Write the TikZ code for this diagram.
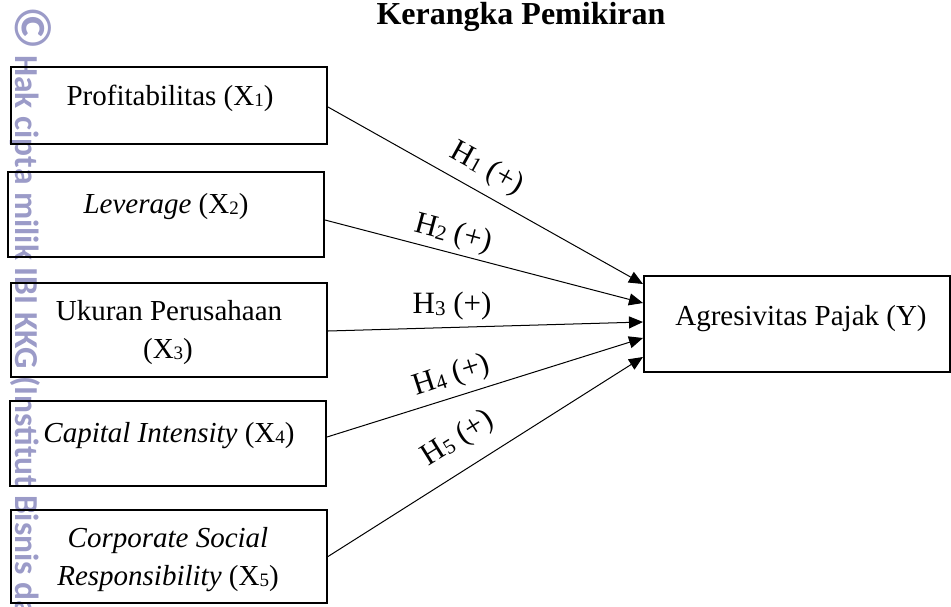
\documentclass[tikz,border=0pt]{standalone}
\usepackage{fontspec}
\setmainfont{Liberation Serif}
\newfontfamily\wmfont{Carlito}
\usetikzlibrary{arrows.meta}
\definecolor{wmcol}{RGB}{155,155,200}
\newcommand{\mysub}[1]{\raisebox{-0.04em}{\fontsize{19}{19}\selectfont #1}}
\newcommand{\lsub}[1]{\raisebox{-0.06em}{\fontsize{21}{21}\selectfont #1}}
\begin{document}
\begin{tikzpicture}[x=1pt,y=-1pt,
  box/.style={draw, line width=2pt, inner sep=0pt, minimum width=316pt},
  txt/.style={inner sep=0pt, font=\fontsize{29}{35}\selectfont, anchor=base},
  lbl/.style={inner sep=0pt, font=\fontsize{31}{36}\selectfont},
  conn/.style={line width=1pt, -{Triangle[length=14pt,width=12pt]}}]
\useasboundingbox (0,0) rectangle (951,606);

% watermark
\node (wm) [rotate=-90, anchor=base west, inner sep=0pt, text=wmcol,
  font=\wmfont\bfseries\fontsize{33.5}{34}\selectfont] at (16,6)
  {{\fontsize{52}{52}\selectfont ©}\hspace{0.17em}Hak cipta milik IBI KKG (Institut Bisnis da};

% title
\node (title) [anchor=base, inner sep=0pt, font=\bfseries\fontsize{32}{38}\selectfont]
  at (521,24) {Kerangka Pemikiran};

% boxes
\node (b1) [box, minimum height=77pt] at (169,105.5) {};
\node (b2) [box, minimum height=85pt] at (166,214.5) {};
\node (b3) [box, minimum height=94pt] at (169,330) {};
\node (b4) [box, minimum height=85pt] at (168,443.5) {};
\node (b5) [box, minimum height=93pt] at (169,556.5) {};
\node (Y)  [box, minimum width=306pt, minimum height=96pt] at (797,324) {};

% box texts
\node (t1)  [txt] at (170,105) {Profitabilitas (X\mysub{1})};
\node (t2)  [txt] at (166,213) {\textit{Leverage} (X\mysub{2})};
\node (t3a) [txt] at (169,320) {Ukuran Perusahaan};
\node (t3b) [txt] at (168,358) {(X\mysub{3})};
\node (t4)  [txt] at (169,442) {\textit{Capital Intensity} (X\mysub{4})};
\node (t5a) [txt] at (168,547) {\textit{Corporate Social}};
\node (t5b) [txt] at (168,585) {\textit{Responsibility} (X\mysub{5})};
\node (tY)  [txt] at (801,325) {Agresivitas Pajak (Y)};

% connectors
\draw[conn] ([yshift=-1.5pt]b1.east) -- ([yshift=40pt]Y.west);
\draw[conn] ([yshift=-5.5pt]b2.east) -- ([yshift=21pt]Y.west);
\draw[conn] ([yshift=-1pt]b3.east) -- ([yshift=2pt]Y.west);
\draw[conn] ([yshift=6.5pt]b4.east) -- ([yshift=-14pt]Y.west);
\draw[conn] (b5.east) -- ([yshift=-33pt]Y.west);

% labels
\node (h1) [lbl, rotate=-29] at (487,169) {H\lsub{1} (+)};
\node (h2) [lbl, rotate=-15] at (453,234) {H\lsub{2} (+)};
\node (h3) [lbl] at (452,306) {H\lsub{3} (+)};
\node (h4) [lbl, rotate=18] at (452,376) {H\lsub{4} (+)};
\node (h5) [lbl, rotate=32] at (458,439) {H\lsub{5} (+)};
\end{tikzpicture}
\end{document}
